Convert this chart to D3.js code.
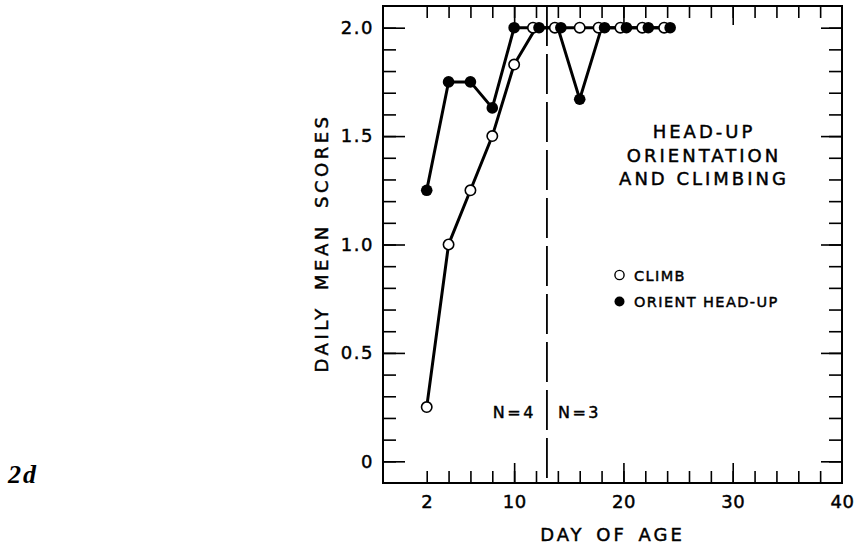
<!DOCTYPE html>
<html><head><meta charset="utf-8">
<script src="https://cdn.jsdelivr.net/npm/d3@7"></script>
<style>
html,body{margin:0;padding:0;background:#fff;}
svg{display:block;}
text{font-family:"DejaVu Sans",sans-serif;fill:#000;stroke:#000;stroke-width:0.45px;}
</style></head>
<body>
<svg id="chart" width="854" height="550"></svg>
<script>
// ---- data ----
const days = [2, 4, 6, 8, 10, 12, 14, 16, 18, 20, 22, 24];
const climb = [0.25, 1.0, 1.25, 1.5, 1.83, 2.0, 2.0, 2.0, 2.0, 2.0, 2.0, 2.0];
const orientHeadUp = [1.25, 1.75, 1.75, 1.63, 2.0, 2.0, 2.0, 1.67, 2.0, 2.0, 2.0, 2.0];
const xTickLabels = [2, 10, 20, 30, 40];
const xMinorTicks = d3.range(2, 40, 2);
const xMajorTicks = [10, 20, 30];
const yTickLabels = [0, 0.5, 1.0, 1.5, 2.0];
const yMinorTicks = d3.range(0, 21).map(i => i / 10);
const splitDay = 13;
const titleLines = ["HEAD-UP", "ORIENTATION", "AND CLIMBING"];
const legendLabels = ["CLIMB", "ORIENT HEAD-UP"];

// ---- layout ----
const svg = d3.select("#chart");
const L = 383, R = 842, T = 6, B = 483;
const x = d3.scaleLinear().domain([-2, 40]).range([L, R]);
const y = d3.scaleLinear().domain([-0.1, 2.1]).range([B, T]);

function clean(g){ g.select(".domain").remove(); g.selectAll("line").attr("stroke","#000").attr("stroke-width",1.6); }

// ticks bottom
svg.append("g").attr("transform",`translate(0,${B})`)
  .call(d3.axisBottom(x).tickValues(xMinorTicks).tickSize(-12).tickFormat("")).call(clean);
svg.append("g").attr("transform",`translate(0,${B})`)
  .call(d3.axisBottom(x).tickValues(xMajorTicks).tickSize(-20).tickFormat("")).call(clean);
const xl = svg.append("g").attr("transform",`translate(0,${B})`)
  .call(d3.axisBottom(x).tickValues(xTickLabels).tickSize(0).tickPadding(12).tickFormat(d => String(d)));
xl.select(".domain").remove();
xl.selectAll("text").attr("font-size",18).attr("font-family","DejaVu Sans").style("letter-spacing","0.5px");

// ticks top
svg.append("g").attr("transform",`translate(0,${T})`)
  .call(d3.axisTop(x).tickValues(xMinorTicks).tickSize(-12).tickFormat("")).call(clean);
svg.append("g").attr("transform",`translate(0,${T})`)
  .call(d3.axisTop(x).tickValues(xMajorTicks).tickSize(-19).tickFormat("")).call(clean);

// ticks left
svg.append("g").attr("transform",`translate(${L},0)`)
  .call(d3.axisLeft(y).tickValues(yMinorTicks).tickSize(-13).tickFormat("")).call(clean);
const yl = svg.append("g").attr("transform",`translate(${L},0)`)
  .call(d3.axisLeft(y).tickValues(yTickLabels).tickSize(-22).tickPadding(9)
    .tickFormat(d => d === 0 ? "0" : d.toFixed(1)));
clean(yl);
yl.selectAll("text").attr("font-size",18).attr("font-family","DejaVu Sans").style("letter-spacing","1.5px");

// ticks right
svg.append("g").attr("transform",`translate(${R},0)`)
  .call(d3.axisRight(y).tickValues(yMinorTicks).tickSize(-13).tickFormat("")).call(clean);
svg.append("g").attr("transform",`translate(${R},0)`)
  .call(d3.axisRight(y).tickValues(yTickLabels).tickSize(-21).tickFormat("")).call(clean);

// frame
svg.append("rect").attr("x",L).attr("y",T).attr("width",R-L).attr("height",B-T)
  .attr("fill","none").attr("stroke","#000").attr("stroke-width",2);

// split line
svg.append("line").attr("x1",x(splitDay)).attr("x2",x(splitDay)).attr("y1",T).attr("y2",B)
  .attr("stroke","#000").attr("stroke-width",1.8).attr("stroke-dasharray","40,8");

// series lines
const line = d3.line().x(d => x(d[0])).y(d => y(d[1]));
const climbPts = days.map((d,i) => [d, climb[i]]);
const orientPts = days.map((d,i) => [d, orientHeadUp[i]]);
svg.append("path").attr("d",line(orientPts)).attr("fill","none").attr("stroke","#000").attr("stroke-width",3);
svg.append("path").attr("d",line(climbPts)).attr("fill","none").attr("stroke","#000").attr("stroke-width",3);

// points (coincident points drawn side by side)
const overlap = i => climb[i] === orientHeadUp[i];
svg.append("g").selectAll("circle").data(climbPts).join("circle")
  .attr("cx",(d,i) => x(d[0]) - (overlap(i) ? 3 : 0)).attr("cy",d => y(d[1])).attr("r",5.2)
  .attr("fill","#fff").attr("stroke","#000").attr("stroke-width",1.6);
svg.append("g").selectAll("circle").data(orientPts).join("circle")
  .attr("cx",(d,i) => x(d[0]) + (overlap(i) ? 3 : 0)).attr("cy",d => y(d[1])).attr("r",5.8)
  .attr("fill","#000");

// N labels
svg.append("text").attr("x",x(splitDay)-11).attr("y",418).attr("text-anchor","end")
  .attr("font-size",16).style("letter-spacing","2.5px").text("N=4");
svg.append("text").attr("x",x(splitDay)+11).attr("y",418).attr("text-anchor","start")
  .attr("font-size",16).style("letter-spacing","2.5px").text("N=3");

// title
svg.append("g").selectAll("text").data(titleLines).join("text")
  .attr("x",704).attr("y",(d,i) => 138 + i*23.5).attr("text-anchor","middle")
  .attr("font-size",18).style("letter-spacing","3px").text(d => d);

// legend
const lg = svg.append("g");
lg.append("circle").attr("cx",619.5).attr("cy",275).attr("r",4.6).attr("fill","#fff").attr("stroke","#000").attr("stroke-width",1.4);
lg.append("circle").attr("cx",619.5).attr("cy",301.5).attr("r",5).attr("fill","#000");
lg.selectAll("text").data(legendLabels).join("text")
  .attr("x",634).attr("y",(d,i) => 280.5 + i*26.5).attr("font-size",14.5)
  .style("letter-spacing","1.4px").text(d => d);

// axis titles
svg.append("text").attr("x",(L+R)/2).attr("y",541).attr("text-anchor","middle")
  .attr("font-size",18).style("letter-spacing","3px").style("word-spacing","3px").text("DAY OF AGE");
svg.append("text").attr("transform","translate(328,243) rotate(-90)").attr("text-anchor","middle")
  .attr("font-size",18).style("letter-spacing","3.5px").style("word-spacing","6px").text("DAILY MEAN SCORES");

// panel label
svg.append("text").attr("x",8).attr("y",483)
  .attr("font-style","italic").attr("font-weight","bold").attr("font-size",26)
  .style("letter-spacing","2px").style("stroke-width","0")
  .style("font-family","'Liberation Serif',serif").text("2d");
</script>
</body></html>
